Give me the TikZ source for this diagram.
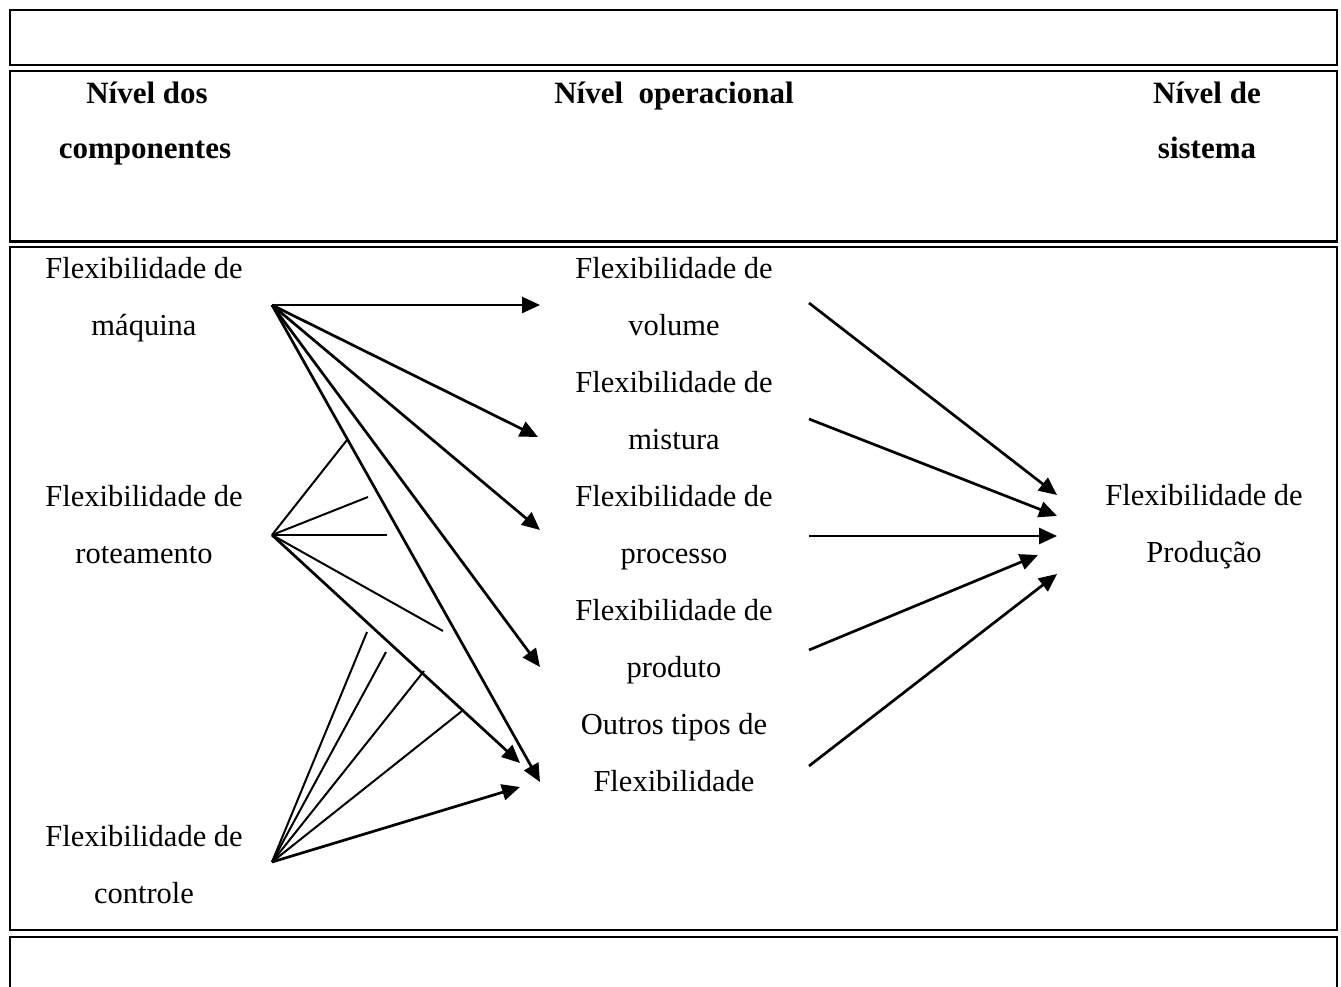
\documentclass[tikz,border=0pt]{standalone}
\usepackage{fontspec}
\setmainfont{Liberation Serif}
\usetikzlibrary{arrows.meta}
\begin{document}
\begin{tikzpicture}[x=1pt,y=-1pt,
  frame/.style={line width=2.6pt},
  lbl/.style={anchor=base,inner sep=0pt,font=\fontsize{30.5}{36}\selectfont},
  head/.style={anchor=base,inner sep=0pt,font=\fontsize{31}{36}\selectfont\bfseries},
  arr/.style={line width=2.7pt,-{Triangle[length=18pt,width=16pt]}},
  thin/.style={line width=2pt}]
\useasboundingbox (0,0) rectangle (1341,987);

% table frames
\draw[frame] (10,10) rectangle (1337,65);
\draw[frame] (10,71) rectangle (1337,241.5);
\draw[frame] (10,247) rectangle (1337,930);
\draw[frame] (10,995) -- (10,937) -- (1337,937) -- (1337,995);

% column headings
\node[head] (h1a) at (147,104) {Nível dos};
\node[head] (h1b) at (145,159) {componentes};
\node[head] (h2)  at (674,104) {Nível\ \ operacional};
\node[head] (h3a) at (1207,104) {Nível de};
\node[head] (h3b) at (1207,159) {sistema};

% component level
\node[lbl] (maqa) at (144,278) {Flexibilidade de};
\node[lbl] (maqb) at (144,335) {máquina};
\node[lbl] (rota) at (144,506) {Flexibilidade de};
\node[lbl] (rotb) at (144,563) {roteamento};
\node[lbl] (ctla) at (144,846) {Flexibilidade de};
\node[lbl] (ctlb) at (144,903) {controle};

% operational level
\node[lbl] (vola) at (674,278) {Flexibilidade de};
\node[lbl] (volb) at (674,335) {volume};
\node[lbl] (misa) at (674,392) {Flexibilidade de};
\node[lbl] (misb) at (674,449) {mistura};
\node[lbl] (proa) at (674,506) {Flexibilidade de};
\node[lbl] (prob) at (674,563) {processo};
\node[lbl] (prda) at (674,620) {Flexibilidade de};
\node[lbl] (prdb) at (674,677) {produto};
\node[lbl] (outa) at (674,734) {Outros tipos de};
\node[lbl] (outb) at (674,791) {Flexibilidade};

% system level
\node[lbl] (pdna) at (1204,505) {Flexibilidade de};
\node[lbl] (pdnb) at (1204,562) {Produção};

% connector ends
\coordinate (maq) at (272,305);
\coordinate (rot) at (272,535);
\coordinate (ctl) at (272,862);
\coordinate (volIn) at (540,305);
\coordinate (misIn) at (538,437);
\coordinate (proIn) at (540,530);
\coordinate (prdIn) at (540,667);
\coordinate (outInA) at (540,782);
\coordinate (outInB) at (520,763);
\coordinate (outInC) at (520,787);
\coordinate (rotE1) at (347,440);
\coordinate (rotE2) at (368,497);
\coordinate (rotE3) at (387,535);
\coordinate (rotE4) at (443,631);
\coordinate (ctlE1) at (367,632);
\coordinate (ctlE2) at (386,652);
\coordinate (ctlE3) at (424,671);
\coordinate (ctlE4) at (462,711);
\coordinate (volOut) at (809,303);
\coordinate (misOut) at (809,419);
\coordinate (proOut) at (809,536);
\coordinate (prdOut) at (809,650);
\coordinate (outOut) at (809,766);
\coordinate (pdnIn1) at (1057,495);
\coordinate (pdnIn2) at (1057,516);
\coordinate (pdnIn3) at (1057,536);
\coordinate (pdnIn4) at (1038,555);
\coordinate (pdnIn5) at (1057,574);

% machine flexibility
\draw[arr] (maq) -- (volIn);
\draw[arr] (maq) -- (misIn);
\draw[arr] (maq) -- (proIn);
\draw[arr] (maq) -- (prdIn);
\draw[arr] (maq) -- (outInA);

% routing flexibility
\draw[thin] (rot) -- (rotE1);
\draw[thin] (rot) -- (rotE2);
\draw[thin] (rot) -- (rotE3);
\draw[thin] (rot) -- (rotE4);
\draw[arr] (rot) -- (outInB);

% control flexibility
\draw[thin] (ctl) -- (ctlE1);
\draw[thin] (ctl) -- (ctlE2);
\draw[thin] (ctl) -- (ctlE3);
\draw[thin] (ctl) -- (ctlE4);
\draw[arr] (ctl) -- (outInC);

% operational to system level
\draw[arr] (volOut) -- (pdnIn1);
\draw[arr] (misOut) -- (pdnIn2);
\draw[arr] (proOut) -- (pdnIn3);
\draw[arr] (prdOut) -- (pdnIn4);
\draw[arr] (outOut) -- (pdnIn5);
\end{tikzpicture}
\end{document}
